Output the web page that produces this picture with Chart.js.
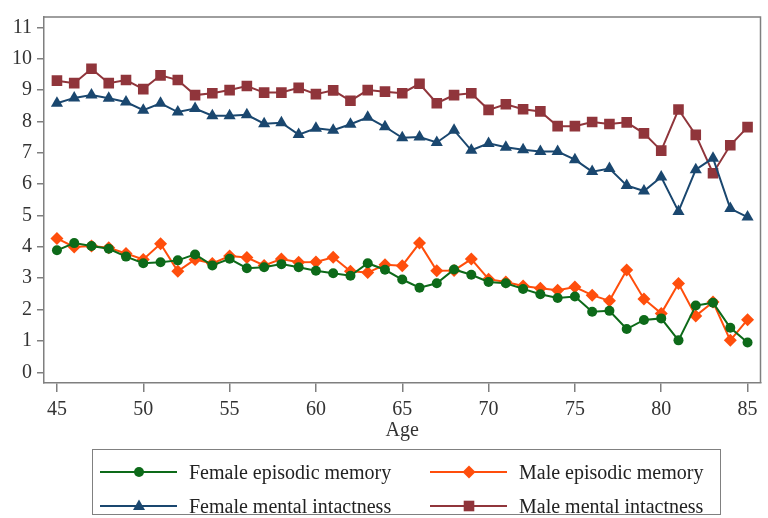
<!DOCTYPE html>
<html>
<head>
<meta charset="utf-8">
<script src="https://cdn.jsdelivr.net/npm/chart.js@4.4.0/dist/chart.umd.min.js"></script>
<style>
  html, body { margin: 0; padding: 0; background: #fff; }
  #wrap { position: relative; width: 768px; height: 518px; }
  #legend {
    position: absolute; left: 92px; top: 449px; width: 627px; height: 64px;
    border: 1.5px solid #808080; font-family: "Liberation Serif", serif; font-size: 20px; color: #222;
  }
  .item { position: absolute; height: 30px; display: flex; align-items: center; white-space: nowrap; }
  .item svg { margin-right: 12px; }
</style>
</head>
<body>
<div id="wrap">
  <canvas id="chart" width="768" height="518"></canvas>
  <div id="legend"></div>
</div>
<script>
// ages on the x axis
var ages = [45, 46, 47, 48, 49, 50, 51, 52, 53, 54, 55, 56, 57, 58, 59, 60, 61, 62, 63, 64, 65,
            66, 67, 68, 69, 70, 71, 72, 73, 74, 75, 76, 77, 78, 79, 80, 81, 82, 83, 84, 85];

var femaleEpisodic = [3.89, 4.12, 4.03, 3.94, 3.69, 3.48, 3.51, 3.57, 3.76, 3.41, 3.62, 3.32, 3.35, 3.45,
                      3.35, 3.24, 3.16, 3.08, 3.48, 3.27, 2.96, 2.70, 2.84, 3.28, 3.11, 2.88, 2.84, 2.66,
                      2.49, 2.37, 2.42, 1.93, 1.96, 1.38, 1.67, 1.72, 1.02, 2.13, 2.22, 1.42, 0.95];
var maleEpisodic = [4.27, 4.00, 4.03, 3.97, 3.79, 3.60, 4.10, 3.22, 3.60, 3.47, 3.71, 3.66, 3.41, 3.61,
                    3.51, 3.52, 3.67, 3.22, 3.18, 3.43, 3.40, 4.12, 3.24, 3.25, 3.61, 2.97, 2.88, 2.75,
                    2.68, 2.62, 2.72, 2.46, 2.28, 3.26, 2.34, 1.88, 2.83, 1.80, 2.24, 1.02, 1.68];
var femaleMental = [8.58, 8.75, 8.84, 8.74, 8.62, 8.36, 8.58, 8.30, 8.41, 8.18, 8.18, 8.21, 7.93, 7.96,
                    7.58, 7.78, 7.72, 7.91, 8.13, 7.83, 7.48, 7.50, 7.33, 7.72, 7.08, 7.30, 7.18, 7.10,
                    7.04, 7.04, 6.78, 6.40, 6.50, 5.96, 5.78, 6.23, 5.13, 6.46, 6.83, 5.22, 4.95];
var maleMental = [9.30, 9.22, 9.68, 9.22, 9.32, 9.03, 9.47, 9.32, 8.84, 8.90, 9.00, 9.13, 8.92, 8.92,
                  9.07, 8.87, 8.99, 8.66, 9.00, 8.95, 8.90, 9.20, 8.58, 8.84, 8.90, 8.37, 8.55, 8.39,
                  8.32, 7.85, 7.85, 7.98, 7.92, 7.97, 7.62, 7.07, 8.38, 7.57, 6.35, 7.24, 7.82];

var xTicks = [45, 50, 55, 60, 65, 70, 75, 80, 85];
var yTicks = [0, 1, 2, 3, 4, 5, 6, 7, 8, 9, 10, 11];

var seriesNames = ['Female episodic memory', 'Male episodic memory',
                   'Female mental intactness', 'Male mental intactness'];

function points(vals) {
    return ages.map(function (a, i) { return { x: a, y: vals[i] }; });
}

function series(label, vals, color, shape, radius) {
    return {
        label: label,
        data: points(vals),
        borderColor: color,
        backgroundColor: color,
        borderWidth: 2,
        pointStyle: shape,
        pointRadius: radius,
        pointBorderWidth: 0,
        pointBackgroundColor: color,
        tension: 0
    };
}

var axisGrey = '#7f7f7f';
Chart.defaults.font.family = '"Liberation Serif", serif';
Chart.defaults.font.size = 20;
Chart.defaults.color = '#333';

// box round the plot area (top and right sides)
var frame = {
    id: 'frame',
    afterDraw: function (chart) {
        var ctx = chart.ctx, a = chart.chartArea;
        ctx.save();
        ctx.strokeStyle = axisGrey;
        ctx.lineWidth = 1.5;
        ctx.beginPath();
        ctx.moveTo(a.left, a.top);
        ctx.lineTo(a.right, a.top);
        ctx.lineTo(a.right, a.bottom);
        ctx.stroke();
        ctx.restore();
    }
};

var datasets = [
    series(seriesNames[0], femaleEpisodic, '#0d6a19', 'circle', 5),
    series(seriesNames[1], maleEpisodic, '#ff4e0c', 'rectRot', 6.5),
    series(seriesNames[2], femaleMental, '#1a476f', 'triangle', 7),
    series(seriesNames[3], maleMental, '#90353b', 'rect', 7.5)
];

var chart = new Chart(document.getElementById('chart'), {
    type: 'line',
    data: { datasets: datasets },
    options: {
        responsive: false,
        animation: false,
        layout: { padding: { left: 0, right: 1, top: 7, bottom: 73 } },
        plugins: { legend: { display: false }, tooltip: { enabled: false } },
        scales: {
            x: {
                type: 'linear',
                min: 44.25,
                max: 85.75,
                afterBuildTicks: function (s) { s.ticks = xTicks.map(function (v) { return { value: v }; }); },
                afterFit: function (s) { s.height = 62; },
                grid: { drawOnChartArea: false, drawTicks: true, tickLength: 9, color: axisGrey, lineWidth: 1.5 },
                border: { display: true, color: axisGrey, width: 1.5 },
                ticks: { autoSkip: false, maxRotation: 0, padding: 6 },
                title: { display: true, text: 'Age', padding: { top: 0, bottom: 2 } }
            },
            y: {
                type: 'linear',
                min: -0.34,
                max: 11.33,
                afterBuildTicks: function (s) { s.ticks = yTicks.map(function (v) { return { value: v }; }); },
                afterFit: function (s) { s.width = 44; },
                grid: { drawOnChartArea: false, drawTicks: true, tickLength: 7, color: axisGrey, lineWidth: 1.5 },
                border: { display: true, color: axisGrey, width: 1.5 },
                ticks: { autoSkip: false, padding: 5 }
            }
        }
    },
    plugins: [frame]
});

// legend, two columns, built from the datasets
function symbol(ds) {
    var c = ds.borderColor, m = '';
    if (ds.pointStyle === 'circle') m = '<circle cx="39" cy="8" r="5" fill="' + c + '"/>';
    if (ds.pointStyle === 'rectRot') m = '<polygon points="39,1.5 45.5,8 39,14.5 32.5,8" fill="' + c + '"/>';
    if (ds.pointStyle === 'triangle') m = '<polygon points="39,1.5 45,12 33,12" fill="' + c + '"/>';
    if (ds.pointStyle === 'rect') m = '<rect x="33.7" y="2.7" width="10.6" height="10.6" fill="' + c + '"/>';
    return '<svg width="77" height="16"><line x1="0" y1="8" x2="77" y2="8" stroke="' + c +
        '" stroke-width="2"/>' + m + '</svg>';
}
var legend = document.getElementById('legend');
var colLeft = [7, 337], rowTop = [7, 41];
datasets.forEach(function (ds, i) {
    var d = document.createElement('div');
    d.className = 'item';
    d.style.left = colLeft[i % 2] + 'px';
    d.style.top = rowTop[Math.floor(i / 2)] + 'px';
    d.innerHTML = symbol(ds) + '<span>' + ds.label + '</span>';
    legend.appendChild(d);
});
</script>
</body>
</html>
